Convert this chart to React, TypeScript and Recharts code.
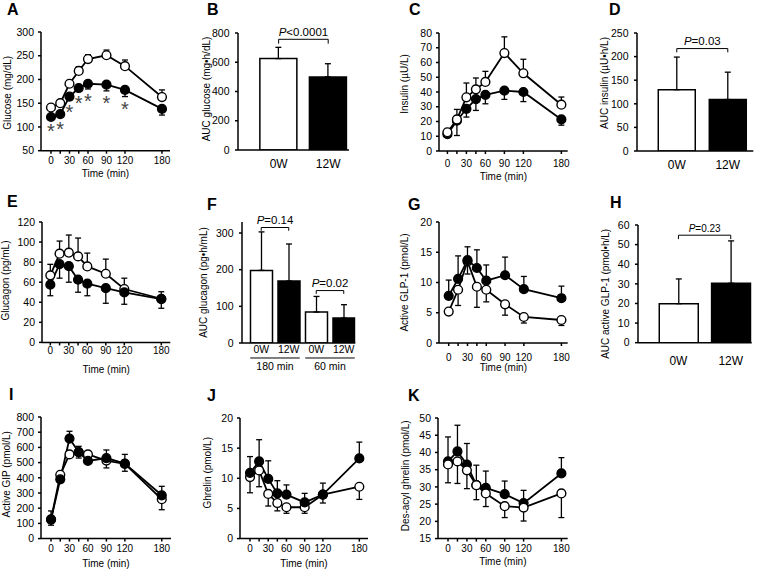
import React from 'react';
import { LineChart, Line, BarChart, Bar, Cell, XAxis, YAxis, ErrorBar, ReferenceLine } from 'recharts';

const FONT = '"Liberation Sans", Arial, Helvetica, sans-serif';

const times = [0, 15, 30, 45, 60, 90, 120, 180];
const labelledTimes = [0, 30, 60, 90, 120, 180];

// A: glucose
const glucose0W = [141, 150, 191, 218, 243, 251, 228, 163];
const glucose0WErr = [3, 4, 5, 9, 9, 11, 13, 15];
const glucose12W = [121, 127, 164, 182, 191, 189, 178, 138];
const glucose12WErr = [3, 3, 7, 6, 11, 13, 14, 13];
const glucoseSig = [true, true, true, true, true, true, true, false];

// B: AUC glucose
const weekLabels = ['0W', '12W'];
const aucGlucose = [625, 500];
const aucGlucoseErr = [77, 90];

// C: insulin
const insulin0W = [12.7, 21.4, 36.4, 41.8, 46.8, 66.4, 52.7, 31.4];
const insulin0WErr = [2, 6.8, 9.7, 7.7, 7.2, 11, 9.5, 5.2];
const insulin12W = [11.4, 20.5, 28.6, 35.2, 38, 40.9, 40, 21.4];
const insulin12WErr = [1.5, 10, 5.6, 7.7, 6, 5.9, 6.5, 3.9];

// D: AUC insulin
const aucInsulin = [130, 109];
const aucInsulinErr = [69, 58];

// E: glucagon
const glucagon0W = [66.8, 88.4, 89.4, 85.7, 75.7, 68.4, 53.2, 43.5];
const glucagon0WErr = [11, 12.6, 17.6, 18.3, 13.3, 14.6, 10.8, 7];
const glucagon12W = [57.5, 78, 76, 62.5, 58.5, 54, 49.8, 43.2];
const glucagon12WErr = [11, 14, 16, 12.5, 12, 15, 11.8, 9.2];

// F: AUC glucagon
const glucagonBarLabels = ['0W', '12W', '0W', '12W'];
const glucagonGroups = ['180 min', '60 min'];
const aucGlucagon = [198, 169, 84.5, 68];
const aucGlucagonErr = [105, 101, 42.5, 36.5];

// G: active GLP-1
const glp0W = [5.2, 8.8, 13.5, 9.3, 8.8, 6.4, 4.3, 3.8];
const glp0WErr = [0.4, 2.6, 2.1, 3.4, 2.0, 1.8, 1.0, 0.9];
const glp12W = [7.8, 10.6, 13.7, 12.4, 10.3, 11.2, 8.9, 7.4];
const glp12WErr = [2.6, 3.8, 2.2, 3.0, 2.6, 3.0, 2.1, 2.0];

// H: AUC active GLP-1
const aucGlp = [19.9, 30.3];
const aucGlpErr = [12.6, 21.6];

// I: active GIP
const gip0W = [127, 420, 554, 569, 554, 513, 491, 259];
const gip0WErr = [39, 15, 20, 39, 15, 48, 48, 69];
const gip12W = [125, 390, 658, 568, 511, 530, 493, 285];
const gip12WErr = [57, 15, 48, 39, 15, 53, 61, 59];

// J: ghrelin
const ghrelin0W = [10.2, 11.3, 7.4, 5.9, 5.2, 5.2, 7.3, 8.6];
const ghrelin0WErr = [2.6, 2.7, 2.0, 1.3, 1.0, 1.0, 1.4, 2.1];
const ghrelin12W = [10.9, 12.8, 9.9, 7.5, 7.3, 6.0, 7.3, 13.3];
const ghrelin12WErr = [2.7, 3.6, 3.0, 2.1, 1.6, 1.5, 1.9, 2.7];

// K: des-acyl ghrelin
const desacyl0W = [36.5, 37.4, 34.8, 30.5, 28.1, 24.4, 24.0, 28.1];
const desacyl0WErr = [5.3, 6.4, 5.3, 4.2, 3.8, 3.3, 3.9, 7.0];
const desacyl12W = [37.4, 40.3, 36.5, 30.5, 29.7, 27.9, 25.3, 33.9];
const desacyl12WErr = [7.1, 7.6, 6.1, 5.8, 4.9, 3.8, 3.7, 4.6];

const ML = 46;
const MT = 12;
const MR = 12;
const MB = 34;

const range = (a: number, b: number, s: number) => {
  const out: number[] = [];
  for (let v = a; v <= b + 1e-9; v += s) out.push(v);
  return out;
};

const yTitle = (text: string, x: number, y: number) => () => (
  <text
    x={x}
    y={y}
    transform={`rotate(-90 ${x} ${y})`}
    textAnchor="middle"
    dominantBaseline="central"
    fontSize={10}
    fill="#000"
  >
    {text}
  </text>
);

type LinePanelProps = {
  x: number; y: number; w: number; h: number;
  xDomain: [number, number]; yDomain: [number, number]; yTicks: number[];
  yLabel: string; labelDist: number; labelShift: number;
  open: number[]; openErr: number[]; filled: number[]; filledErr: number[];
  openUp: boolean; whiteOnTop?: boolean; tickGap: number; titleGap: number;
  stars?: boolean[];
};

function LinePanel(p: LinePanelProps) {
  const data = times.map((t, i) => ({
    t,
    o: p.open[i],
    oe: p.openUp ? [0, p.openErr[i]] : [p.openErr[i], 0],
    f: p.filled[i],
    fe: p.openUp ? [p.filledErr[i], 0] : [0, p.filledErr[i]],
  }));
  const pxPerUnit = p.h / (p.yDomain[1] - p.yDomain[0]);

  const filledDot: any = p.stars
    ? (props: any) => {
        const { cx, cy, index, payload } = props;
        const errPx = payload.fe[0] * pxPerUnit;
        return (
          <g key={`fd-${index}`}>
            <circle cx={cx} cy={cy} r={4.4} fill="#000" stroke="#000" strokeWidth={1.4} />
            {p.stars![index] && (
              <text x={cx} y={cy + Math.max(10, errPx + 8) + 11.5} textAnchor="middle" fontSize={20} fill="#444">
                *
              </text>
            )}
          </g>
        );
      }
    : { r: 4.4, fill: '#000', stroke: '#000', strokeWidth: 1.4 };

  const openLine = (
    <Line
      key="o"
      dataKey="o"
      stroke="#000"
      strokeWidth={1.8}
      isAnimationActive={false}
      dot={{ r: 4.4, fill: '#fff', stroke: '#000', strokeWidth: 1.4 }}
      activeDot={false}
    >
      <ErrorBar dataKey="oe" direction="y" width={3} stroke="#000" strokeWidth={1.3} />
    </Line>
  );
  const filledLine = (
    <Line
      key="f"
      dataKey="f"
      stroke="#000"
      strokeWidth={1.8}
      isAnimationActive={false}
      dot={filledDot}
      activeDot={false}
    >
      <ErrorBar dataKey="fe" direction="y" width={3} stroke="#000" strokeWidth={1.3} />
    </Line>
  );

  const xTitle = () => (
    <text x={ML + p.w / 2} y={MT + p.h + p.titleGap + 3.6} textAnchor="middle" fontSize={10} fill="#000">
      Time (min)
    </text>
  );

  return (
    <div style={{ position: 'absolute', left: p.x - ML, top: p.y - MT }}>
      <LineChart width={ML + p.w + MR} height={MT + p.h + MB} data={data} margin={{ top: MT, right: MR, left: 0, bottom: 0 }}>
        <XAxis
          type="number"
          dataKey="t"
          domain={p.xDomain}
          allowDataOverflow
          ticks={times}
          interval={0}
          height={MB}
          tickSize={3}
          tickMargin={p.tickGap - 0.3}
          tickFormatter={(v: number) => (labelledTimes.includes(v) ? String(v) : '')}
          stroke="#000"
          strokeWidth={1.5}
          tick={{ fontSize: 10, fill: '#000' }}
          label={{ content: xTitle }}
        />
        <YAxis
          type="number"
          domain={p.yDomain}
          allowDataOverflow
          ticks={p.yTicks}
          interval={0}
          width={ML}
          tickSize={3}
          tickMargin={4}
          stroke="#000"
          strokeWidth={1.5}
          tick={{ fontSize: 10.5, fill: '#000' }}
          label={{ content: yTitle(p.yLabel, ML - p.labelDist, MT + p.h / 2 + p.labelShift) }}
        />
        {p.whiteOnTop ? [filledLine, openLine] : [openLine, filledLine]}
      </LineChart>
    </div>
  );
}

type Bracket = { from: number; to: number; at: number; drop: number; text: string };

type BarPanelProps = {
  x: number; y: number; w: number; h: number;
  xDomain: [number, number]; yDomain: [number, number]; yTicks: number[];
  yLabel: string; labelDist: number; labelShift: number;
  values: number[]; errs: number[]; labels: string[]; barSize: number;
  tickGap: number; labelFont: number; pFont: number; brackets: Bracket[];
  groups?: string[];
};

function BarPanel(p: BarPanelProps) {
  const data = p.values.map((v, i) => ({ k: i + 1, v, e: [0, p.errs[i]] }));
  const keys = p.values.map((_, i) => i + 1);
  const pxPerX = p.w / (p.xDomain[1] - p.xDomain[0]);

  const pText = (text: string) => (props: any) => {
    const vb = props.viewBox || {};
    const cx = vb.x + (vb.width || 0) / 2;
    return (
      <text x={cx} y={vb.y - 3.5} textAnchor="middle" fontSize={p.pFont} fill="#000">
        <tspan fontStyle="italic">P</tspan>
        {text}
      </text>
    );
  };

  const tick = (props: any) => {
    const { x, y, payload } = props;
    const i = payload.value - 1;
    const g = p.groups;
    return (
      <g>
        <text x={x} y={y} dy="0.71em" textAnchor="middle" fontSize={p.labelFont} fill="#000">
          {p.labels[i]}
        </text>
        {g && i % 2 === 0 && (
          <g>
            <line
              x1={x - p.barSize / 2}
              x2={x + pxPerX + p.barSize / 2}
              y1={y + 12.7}
              y2={y + 12.7}
              stroke="#000"
              strokeWidth={1}
            />
            <text x={x + pxPerX / 2} y={y + 25} textAnchor="middle" fontSize={10.5} fill="#000">
              {g[i / 2]}
            </text>
          </g>
        )}
      </g>
    );
  };

  return (
    <div style={{ position: 'absolute', left: p.x - ML, top: p.y - MT }}>
      <BarChart width={ML + p.w + MR} height={MT + p.h + MB} data={data} margin={{ top: MT, right: MR, left: 0, bottom: 0 }}>
        <XAxis
          type="number"
          dataKey="k"
          domain={p.xDomain}
          allowDataOverflow
          ticks={keys}
          interval={0}
          height={MB}
          tickLine={false}
          tickSize={0}
          tickMargin={p.tickGap}
          stroke="#000"
          strokeWidth={1.5}
          tick={tick}
        />
        <YAxis
          type="number"
          domain={p.yDomain}
          allowDataOverflow
          ticks={p.yTicks}
          interval={0}
          width={ML}
          tickSize={3}
          tickMargin={5.5}
          stroke="#000"
          strokeWidth={1.5}
          tick={{ fontSize: 10.5, fill: '#000' }}
          label={{ content: yTitle(p.yLabel, ML - p.labelDist, MT + p.h / 2 + p.labelShift) }}
        />
        <Bar dataKey="v" barSize={p.barSize} stroke="#000" strokeWidth={1.5} isAnimationActive={false}>
          {data.map((d, i) => (
            <Cell key={d.k} fill={i % 2 === 0 ? '#fff' : '#000'} />
          ))}
          <ErrorBar dataKey="e" direction="y" width={3} stroke="#000" strokeWidth={1.3} />
        </Bar>
        {p.brackets.map((b, j) => [
          <ReferenceLine
            key={`h${j}`}
            segment={[{ x: b.from, y: b.at }, { x: b.to, y: b.at }]}
            stroke="#000"
            strokeWidth={1}
            label={{ content: pText(b.text) }}
          />,
          <ReferenceLine
            key={`l${j}`}
            segment={[{ x: b.from, y: b.at }, { x: b.from, y: b.at - b.drop }]}
            stroke="#000"
            strokeWidth={1}
          />,
          <ReferenceLine
            key={`r${j}`}
            segment={[{ x: b.to, y: b.at }, { x: b.to, y: b.at - b.drop }]}
            stroke="#000"
            strokeWidth={1}
          />,
        ])}
      </BarChart>
    </div>
  );
}

const Letter = ({ ch, x, base }: { ch: string; x: number; base: number }) => (
  <div
    style={{
      position: 'absolute',
      left: x,
      top: base - 13.5,
      fontSize: 16,
      lineHeight: '16px',
      fontWeight: 'bold',
      color: '#000',
    }}
  >
    {ch}
  </div>
);

export default function App() {
  return (
    <div
      style={{
        position: 'absolute',
        left: 0,
        top: 0,
        width: 770,
        height: 571,
        background: '#fff',
        overflow: 'hidden',
        fontFamily: FONT,
      }}
    >
      <Letter ch="A" x={7} base={15} />
      <Letter ch="B" x={207} base={15} />
      <Letter ch="C" x={409} base={15} />
      <Letter ch="D" x={609} base={15} />
      <Letter ch="E" x={7} base={207} />
      <Letter ch="F" x={207} base={210} />
      <Letter ch="G" x={408} base={210} />
      <Letter ch="H" x={610} base={208} />
      <Letter ch="I" x={9} base={400} />
      <Letter ch="J" x={207} base={401} />
      <Letter ch="K" x={408} base={401} />

      <LinePanel
        x={41} y={32.3} w={129} h={118.7}
        xDomain={[-16.2, 193]} yDomain={[50, 300]} yTicks={range(50, 300, 50)}
        yLabel="Glucose (mg/dL)" labelDist={33.7} labelShift={1.5}
        open={glucose0W} openErr={glucose0WErr} filled={glucose12W} filledErr={glucose12WErr}
        openUp tickGap={4} titleGap={23} stars={glucoseSig}
      />
      <BarPanel
        x={238} y={33} w={111} h={117}
        xDomain={[0.18, 2.42]} yDomain={[0, 800]} yTicks={range(0, 800, 200)}
        yLabel="AUC glucose (mg•h/dL)" labelDist={31.7} labelShift={-2.5}
        values={aucGlucose} errs={aucGlucoseErr} labels={weekLabels} barSize={37}
        tickGap={9.3} labelFont={12} pFont={11.5}
        brackets={[{ from: 1, to: 2, at: 757, drop: 30, text: '<0.0001' }]}
      />
      <LinePanel
        x={439.3} y={32.7} w={128.7} h={118}
        xDomain={[-13.3, 190]} yDomain={[0, 80]} yTicks={range(0, 80, 10)}
        yLabel="Insulin (µU/L)" labelDist={34.8} labelShift={-8}
        open={insulin0W} openErr={insulin0WErr} filled={insulin12W} filledErr={insulin12WErr}
        openUp whiteOnTop tickGap={6} titleGap={25}
      />
      <BarPanel
        x={636.7} y={32.7} w={116.3} h={118}
        xDomain={[0.22, 2.5]} yDomain={[0, 250]} yTicks={range(0, 250, 50)}
        yLabel="AUC insulin (µU•h/L)" labelDist={32.4} labelShift={-9}
        values={aucInsulin} errs={aucInsulinErr} labels={weekLabels} barSize={37}
        tickGap={9} labelFont={12} pFont={11.5}
        brackets={[{ from: 1, to: 2, at: 217, drop: 8, text: '=0.03' }]}
      />

      <LinePanel
        x={41.7} y={222.3} w={128.3} h={120.4}
        xDomain={[-13.5, 194.6]} yDomain={[0, 120]} yTicks={range(0, 120, 20)}
        yLabel="Glucagon (pg/mL)" labelDist={36.2} labelShift={-1.7}
        open={glucagon0W} openErr={glucagon0WErr} filled={glucagon12W} filledErr={glucagon12WErr}
        openUp tickGap={1.6} titleGap={27}
      />
      <BarPanel
        x={241.7} y={222.3} w={113.3} h={121}
        xDomain={[0.3, 4.42]} yDomain={[0, 330]} yTicks={[0, 100, 200, 300]}
        yLabel="AUC glucagon (pg•h/mL)" labelDist={38.7} labelShift={0}
        values={aucGlucagon} errs={aucGlucagonErr} labels={glucagonBarLabels} barSize={22}
        tickGap={2.3} labelFont={10.5} pFont={11.5} groups={glucagonGroups}
        brackets={[
          { from: 1, to: 2, at: 315, drop: 9, text: '=0.14' },
          { from: 3, to: 4, at: 143, drop: 9, text: '=0.02' },
        ]}
      />
      <LinePanel
        x={439.3} y={222.3} w={128.7} h={121}
        xDomain={[-15.5, 190]} yDomain={[0, 20]} yTicks={range(0, 20, 5)}
        yLabel="Active GLP-1 (pmol/L)" labelDist={34.3} labelShift={0}
        open={glp0W} openErr={glp0WErr} filled={glp12W} filledErr={glp12WErr}
        openUp={false} tickGap={8} titleGap={24.3}
      />
      <BarPanel
        x={638.3} y={225} w={113.7} h={117.7}
        xDomain={[0.227, 2.4]} yDomain={[0, 60]} yTicks={range(0, 60, 10)}
        yLabel="AUC active GLP-1 (pmol•h/L)" labelDist={32.8} labelShift={10}
        values={aucGlp} errs={aucGlpErr} labels={weekLabels} barSize={39}
        tickGap={13.6} labelFont={12} pFont={10}
        brackets={[{ from: 1, to: 2, at: 54.8, drop: 2, text: '=0.23' }]}
      />

      <LinePanel
        x={41} y={416.7} w={130} h={121.6}
        xDomain={[-16.3, 195]} yDomain={[0, 800]} yTicks={range(0, 800, 100)}
        yLabel="Active GIP (pmol/L)" labelDist={34.7} labelShift={-3.5}
        open={gip0W} openErr={gip0WErr} filled={gip12W} filledErr={gip12WErr}
        openUp={false} tickGap={4} titleGap={25}
      />
      <LinePanel
        x={240} y={417.7} w={128} h={120.6}
        xDomain={[-16.5, 194.3]} yDomain={[0, 20]} yTicks={range(0, 20, 5)}
        yLabel="Ghrelin (pmol/L)" labelDist={33} labelShift={-5.5}
        open={ghrelin0W} openErr={ghrelin0WErr} filled={ghrelin12W} filledErr={ghrelin12WErr}
        openUp={false} tickGap={4} titleGap={25}
      />
      <LinePanel
        x={438.3} y={417.7} w={129.7} h={120.6}
        xDomain={[-15.9, 190]} yDomain={[15, 50]} yTicks={range(15, 50, 5)}
        yLabel="Des-acyl ghrelin (pmol/L)" labelDist={32.8} labelShift={-2.5}
        open={desacyl0W} openErr={desacyl0WErr} filled={desacyl12W} filledErr={desacyl12WErr}
        openUp={false} whiteOnTop tickGap={3.3} titleGap={22.7}
      />
    </div>
  );
}
